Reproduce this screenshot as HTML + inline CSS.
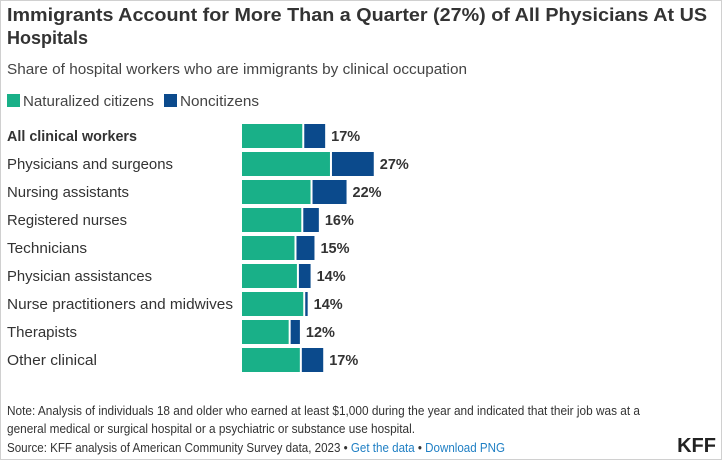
<!DOCTYPE html>
<html><head><meta charset="utf-8"><style>
body{margin:0;background:#fff}
svg{display:block;font-family:"Liberation Sans",sans-serif}
</style></head><body>
<svg width="722" height="460" viewBox="0 0 722 460">
<rect x="0.5" y="0.5" width="721" height="459" fill="#fff" stroke="#d0d0d0"/>
<text x="7" y="21" font-size="18.5" font-weight="bold" fill="#333" textLength="700" lengthAdjust="spacingAndGlyphs">Immigrants Account for More Than a Quarter (27%) of All Physicians At US</text>
<text x="7" y="44" font-size="18.5" font-weight="bold" fill="#333" textLength="81" lengthAdjust="spacingAndGlyphs">Hospitals</text>
<text x="7" y="74" font-size="15" fill="#444" textLength="460" lengthAdjust="spacingAndGlyphs">Share of hospital workers who are immigrants by clinical occupation</text>
<g>
<rect x="7" y="94" width="13" height="13" fill="#19b088"/>
<text x="23" y="106" font-size="14.5" fill="#444" textLength="131" lengthAdjust="spacingAndGlyphs">Naturalized citizens</text>
<rect x="164" y="94" width="13" height="13" fill="#0b4a8c"/>
<text x="180" y="106" font-size="14.5" fill="#444" textLength="79" lengthAdjust="spacingAndGlyphs">Noncitizens</text>
</g>
<g id="bars"></g>
<text x="7" y="415" font-size="12.5" fill="#333" textLength="633" lengthAdjust="spacingAndGlyphs">Note: Analysis of individuals 18 and older who earned at least $1,000 during the year and indicated that their job was at a</text>
<text x="7" y="433" font-size="12.5" fill="#333" textLength="408" lengthAdjust="spacingAndGlyphs">general medical or surgical hospital or a psychiatric or substance use hospital.</text>
<text x="7" y="452" font-size="12.5" fill="#333" textLength="498" lengthAdjust="spacingAndGlyphs">Source: KFF analysis of American Community Survey data, 2023 • <tspan fill="#1f7fc4">Get the data</tspan> • <tspan fill="#1f7fc4">Download PNG</tspan></text>
<text x="716" y="452" text-anchor="end" font-size="20" font-weight="bold" fill="#222">KFF</text>
</svg>
<script>
const categories=["All clinical workers","Physicians and surgeons","Nursing assistants","Registered nurses","Technicians","Physician assistances","Nurse practitioners and midwives","Therapists","Other clinical"];
const naturalized=[12.4,18.1,14.1,12.2,10.8,11.3,12.6,9.6,11.9];
const noncitizens=[4.3,8.6,7.0,3.2,3.7,2.4,0.5,1.9,4.4];
const totalLabels=["17%","27%","22%","16%","15%","14%","14%","12%","17%"];
const labelWidths=[130,166,122,120,80,145,226,70,90];
const ns="http://www.w3.org/2000/svg";
const g=document.getElementById('bars');
const x0=242,scale=4.86,y0=124,step=28,bh=24;
const xs=v=>v*scale;
function mk(t,a){const e=document.createElementNS(ns,t);for(const k in a)e.setAttribute(k,a[k]);g.appendChild(e);return e;}
categories.forEach((c,i)=>{
 const y=y0+i*step;
 const lab=mk('text',{x:7,y:y+17,'font-size':15,fill:'#333','font-weight':i===0?'bold':'normal',textLength:labelWidths[i],lengthAdjust:'spacingAndGlyphs'});
 lab.textContent=c;
 
 
 const gw=xs(naturalized[i]);
 const r1=mk('rect',{x:x0,y:y,width:gw,height:bh,fill:'#19b088'});
 
 
 const bw=Math.max(xs(noncitizens[i]),1.5);
 const r2=mk('rect',{x:x0+gw+2,y:y,width:bw,height:bh,fill:'#0b4a8c'});
 
 
 const v=mk('text',{x:x0+gw+2+bw+6,y:y+17,'font-size':14.5,'font-weight':'bold',fill:'#333'});
 v.textContent=totalLabels[i];
 
 
});
</script>
</body></html>
